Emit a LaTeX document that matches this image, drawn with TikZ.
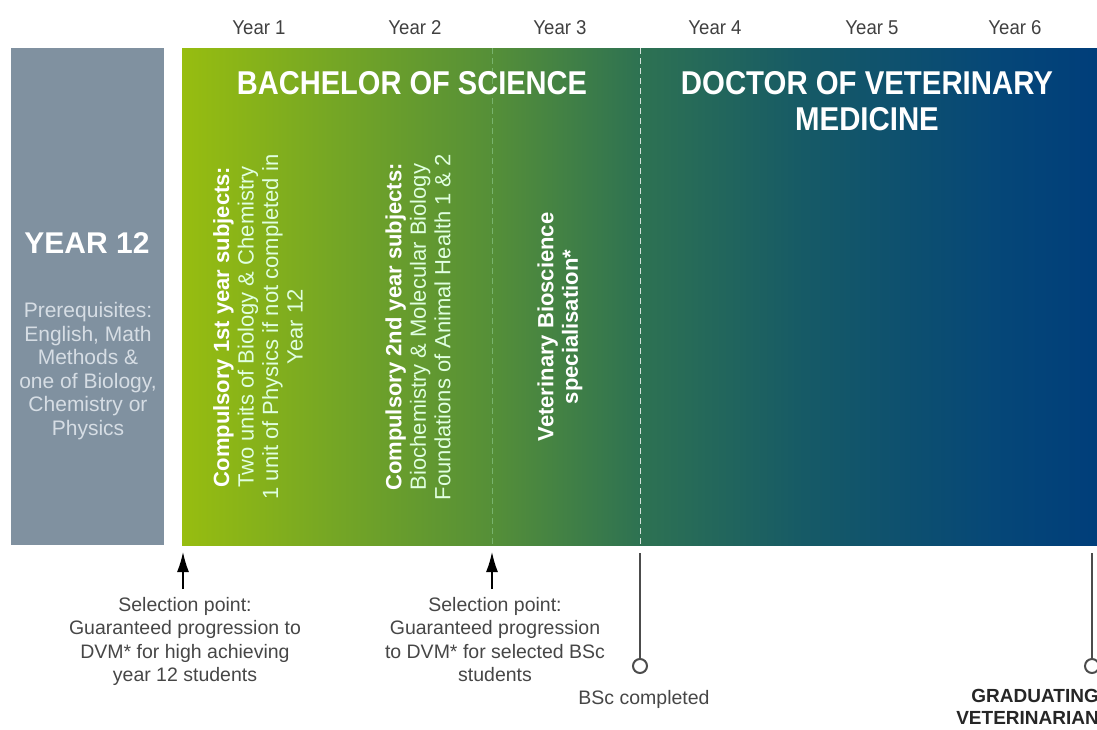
\documentclass[tikz,border=0pt]{standalone}
\usepackage{fontspec}
\setmainfont{Liberation Sans}
\usetikzlibrary{arrows.meta}
\definecolor{greybox}{RGB}{128,145,160}
\definecolor{g1}{RGB}{151,189,16}
\definecolor{g2}{RGB}{118,167,36}
\definecolor{g3}{RGB}{85,143,56}
\definecolor{g4}{RGB}{46,114,82}
\definecolor{g5}{RGB}{22,90,102}
\definecolor{g6}{RGB}{5,70,120}
\definecolor{g7}{RGB}{0,62,122}
\definecolor{preq}{RGB}{214,221,228}
\definecolor{bottomtxt}{RGB}{70,70,70}
\pgfdeclarehorizontalshading{vetshade}{100bp}{color(0bp)=(g1); color(25bp)=(g1); color(33bp)=(g2); color(42bp)=(g3); color(50bp)=(g4); color(59bp)=(g5); color(70bp)=(g6); color(75bp)=(g7); color(100bp)=(g7)}
\tikzset{
  yearlbl/.style={font=\fontsize{20}{24}\selectfont, text=black!75, inner sep=0pt},
  headlbl/.style={font=\bfseries\fontsize{33}{36}\selectfont, text=white, inner sep=0pt, align=center},
  rottxt/.style={rotate=90, font=\fontsize{22}{24.5}\selectfont, text=white!88!green, align=center, inner sep=0pt},
  bottxt/.style={font=\fontsize{19.5}{23.5}\selectfont, text=bottomtxt, align=center, inner sep=0pt},
  arr/.style={-{Latex[length=20pt,width=12pt]}, line width=1.4pt, black},
  stem/.style={line width=1.8pt, black!70},
  endcirc/.style={circle, draw=black!70, line width=2pt, fill=white, minimum size=14pt, inner sep=0pt},
  divider/.style={dashed, dash pattern=on 6pt off 4pt, line width=0.8pt}
}
\begin{document}
\begin{tikzpicture}[x=1pt,y=-1pt]
\useasboundingbox (0,0) rectangle (1097,729);
% boxes
\fill[greybox] (11,48) rectangle (164,545);
\shade[shading=vetshade] (182,48) rectangle (1097,545);
\draw[divider, white!70!green!80!black, opacity=0.6] (492,48) -- (492,545);
\draw[divider, white, opacity=0.8] (640,48) -- (640,545);
% years
\node[yearlbl] (y1) at (259,28) {\scalebox{0.93}[1]{Year 1}};
\node[yearlbl] (y2) at (415,28) {\scalebox{0.93}[1]{Year 2}};
\node[yearlbl] (y3) at (560,28) {\scalebox{0.93}[1]{Year 3}};
\node[yearlbl] (y4) at (715,28) {\scalebox{0.93}[1]{Year 4}};
\node[yearlbl] (y5) at (872,28) {\scalebox{0.93}[1]{Year 5}};
\node[yearlbl] (y6) at (1015,28) {\scalebox{0.93}[1]{Year 6}};
% headings
\node[headlbl] (bsc) at (412,83) {\scalebox{0.88}[1]{BACHELOR OF SCIENCE}};
\node[headlbl] (dvm) at (867,101) {\scalebox{0.89}[1]{DOCTOR OF VETERINARY}\\[0pt]\scalebox{0.89}[1]{MEDICINE}};
% year 12
\node[font=\bfseries\fontsize{30}{32}\selectfont, text=white, inner sep=0pt] (y12) at (87,243) {YEAR 12};
\node[font=\fontsize{21}{23.6}\selectfont, text=preq, align=center, inner sep=0pt, anchor=north] (pre) at (88,302) {Prerequisites:\\English, Math\\Methods \&\\one of Biology,\\Chemistry or\\Physics};
% rotated subject texts
\node[rottxt] (c1) at (258,327) {\textcolor{white}{\bfseries Compulsory 1st year subjects:}\\Two units of Biology \& Chemistry\\1 unit of Physics if not completed in\\Year 12};
\node[rottxt] (c2) at (418,327) {\textcolor{white}{\bfseries Compulsory 2nd year subjects:}\\Biochemistry \& Molecular Biology\\Foundations of Animal Health 1 \& 2};
\node[rottxt, text=white, font=\bfseries\fontsize{22}{24.5}\selectfont] (c3) at (560,327) {Veterinary Bioscience\\specialisation*};
% bottom annotations
\coordinate (a1) at (183,552);
\coordinate (a2) at (492,552);
\coordinate (s1) at (183,589);
\coordinate (s2) at (492,589);
\draw[arr] (s1) -- (a1);
\draw[arr] (s2) -- (a2);
\node[bottxt, anchor=north] (t1) at (185,597) {Selection point:\\Guaranteed progression to\\DVM* for high achieving\\year 12 students};
\node[bottxt, anchor=north] (t2) at (495,597) {Selection point:\\Guaranteed progression\\to DVM* for selected BSc\\students};
\coordinate (b1) at (640,553);
\coordinate (b2) at (1092,553);
\node[endcirc] (e1) at (640,666) {};
\node[endcirc] (e2) at (1092,666) {};
\draw[stem] (b1) -- (e1.north);
\draw[stem] (b2) -- (e2.north);
\node[bottxt] (bscdone) at (644,699) {BSc completed};
\node[bottxt, font=\bfseries\fontsize{19}{22.5}\selectfont, text=black!85, align=right, anchor=north east] (grad) at (1099,689) {GRADUATING\\VETERINARIAN};
\end{tikzpicture}
\end{document}
